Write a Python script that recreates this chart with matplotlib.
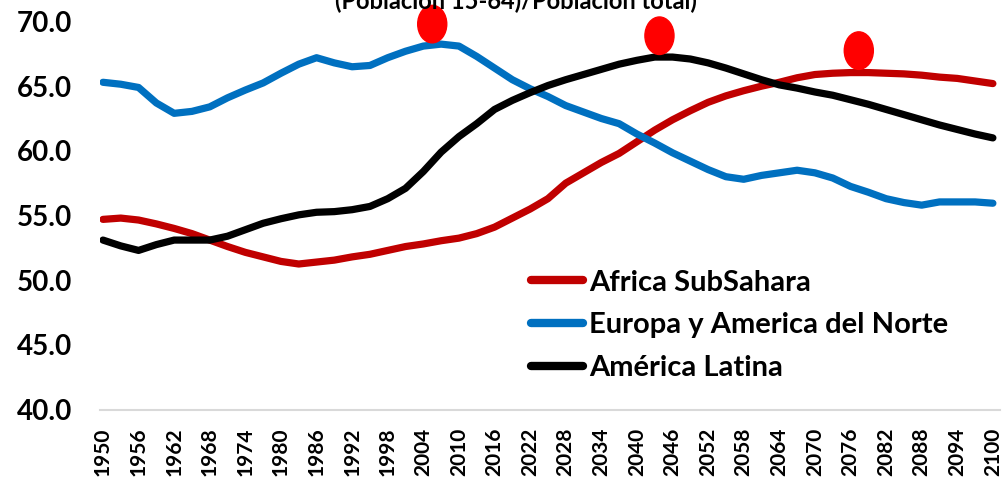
import matplotlib
matplotlib.use("Agg")
import matplotlib.pyplot as plt
from matplotlib.patches import Ellipse

years = list(range(1950, 2101, 3))

africa = [54.7, 54.8, 54.65, 54.35, 54.0, 53.6, 53.1, 52.6, 52.15, 51.8,
          51.45, 51.25, 51.4, 51.55, 51.8, 52.0, 52.3, 52.6, 52.8, 53.05,
          53.25, 53.6, 54.1, 54.8, 55.5, 56.3, 57.5, 58.3, 59.1, 59.8,
          60.7, 61.6, 62.4, 63.1, 63.75, 64.25, 64.65, 65.0, 65.3, 65.65,
          65.9, 66.0, 66.05, 66.05, 66.0, 65.95, 65.85, 65.7, 65.6, 65.4,
          65.2]

europa = [65.3, 65.15, 64.9, 63.7, 62.9, 63.05, 63.4, 64.1, 64.7, 65.25,
          66.0, 66.7, 67.2, 66.8, 66.5, 66.6, 67.2, 67.7, 68.1, 68.25,
          68.1, 67.3, 66.4, 65.5, 64.8, 64.2, 63.5, 63.0, 62.5, 62.1,
          61.3, 60.6, 59.85, 59.2, 58.55, 58.0, 57.8, 58.1, 58.3, 58.5,
          58.3, 57.9, 57.25, 56.8, 56.3, 56.0, 55.8, 56.05, 56.05, 56.05,
          55.95]

latina = [53.1, 52.65, 52.3, 52.75, 53.1, 53.1, 53.1, 53.4, 53.9, 54.4,
          54.75, 55.05, 55.25, 55.3, 55.45, 55.7, 56.3, 57.1, 58.4, 59.9,
          61.1, 62.1, 63.2, 63.9, 64.5, 65.05, 65.5, 65.9, 66.3, 66.7,
          67.0, 67.25, 67.25, 67.1, 66.8, 66.4, 65.95, 65.5, 65.1, 64.85,
          64.55, 64.3, 63.95, 63.6, 63.2, 62.8, 62.4, 62.0, 61.65, 61.3,
          61.0]

series = [("Africa SubSahara", africa, "#c00000"),
          ("Europa y America del Norte", europa, "#0070c0"),
          ("América Latina", latina, "#000000")]

# red markers over the peaks (year, value)
peak_years = [2005.5, 2043.8, 2077.4]
peak_values = [69.8, 68.9, 67.75]

tick_years = list(range(1950, 2101, 6))
y_ticks = [40, 45, 50, 55, 60, 65, 70]

fig = plt.figure(figsize=(10.08, 4.83), dpi=100)
ax = fig.add_axes([100 / 1008, 1 - 409.5 / 483, 900 / 1008, (409.5 - 21.5) / 483])

for label, vals, color in series:
    ax.plot(years, vals, color=color, lw=5.2, solid_capstyle="round",
            label=label)

for px, py in zip(peak_years, peak_values):
    ax.add_patch(Ellipse((px, py), 4.9, 2.9, color="#ff0000",
                         clip_on=False, zorder=5))

ax.set_xlim(1949.5, 2101.2)
ax.set_ylim(40, 70)
ax.set_yticks(y_ticks)
ax.set_yticklabels([f"{v:.1f}" for v in y_ticks], fontfamily="Lato",
                   fontweight="bold", fontsize=20)
ax.set_xticks(tick_years)
ax.set_xticklabels([str(y) for y in tick_years], rotation=90,
                   fontfamily="Lato", fontweight="bold", fontsize=15)
ax.tick_params(axis="x", length=0, pad=13)
ax.tick_params(axis="y", length=0, pad=20)
for s in ["top", "right", "left"]:
    ax.spines[s].set_visible(False)
ax.spines["bottom"].set_color("#d9d9d9")
ax.spines["bottom"].set_linewidth(1.5)

leg = ax.legend(loc="upper left", bbox_to_anchor=(516 / 1008, 1 - 255 / 483),
                bbox_transform=fig.transFigure, frameon=False, borderpad=0,
                handlelength=1.8, handletextpad=0.2, labelspacing=0.58,
                prop={"family": "Lato", "weight": "bold", "size": 21})
for h in leg.get_lines():
    h.set_linewidth(6)

fig.text(516 / 1008, 1 - 9 / 483, "(Población 15-64)/Población total)",
         ha="center", va="baseline", fontfamily="Lato", fontweight="bold",
         fontsize=17)

fig.savefig("out.png", dpi=100)
